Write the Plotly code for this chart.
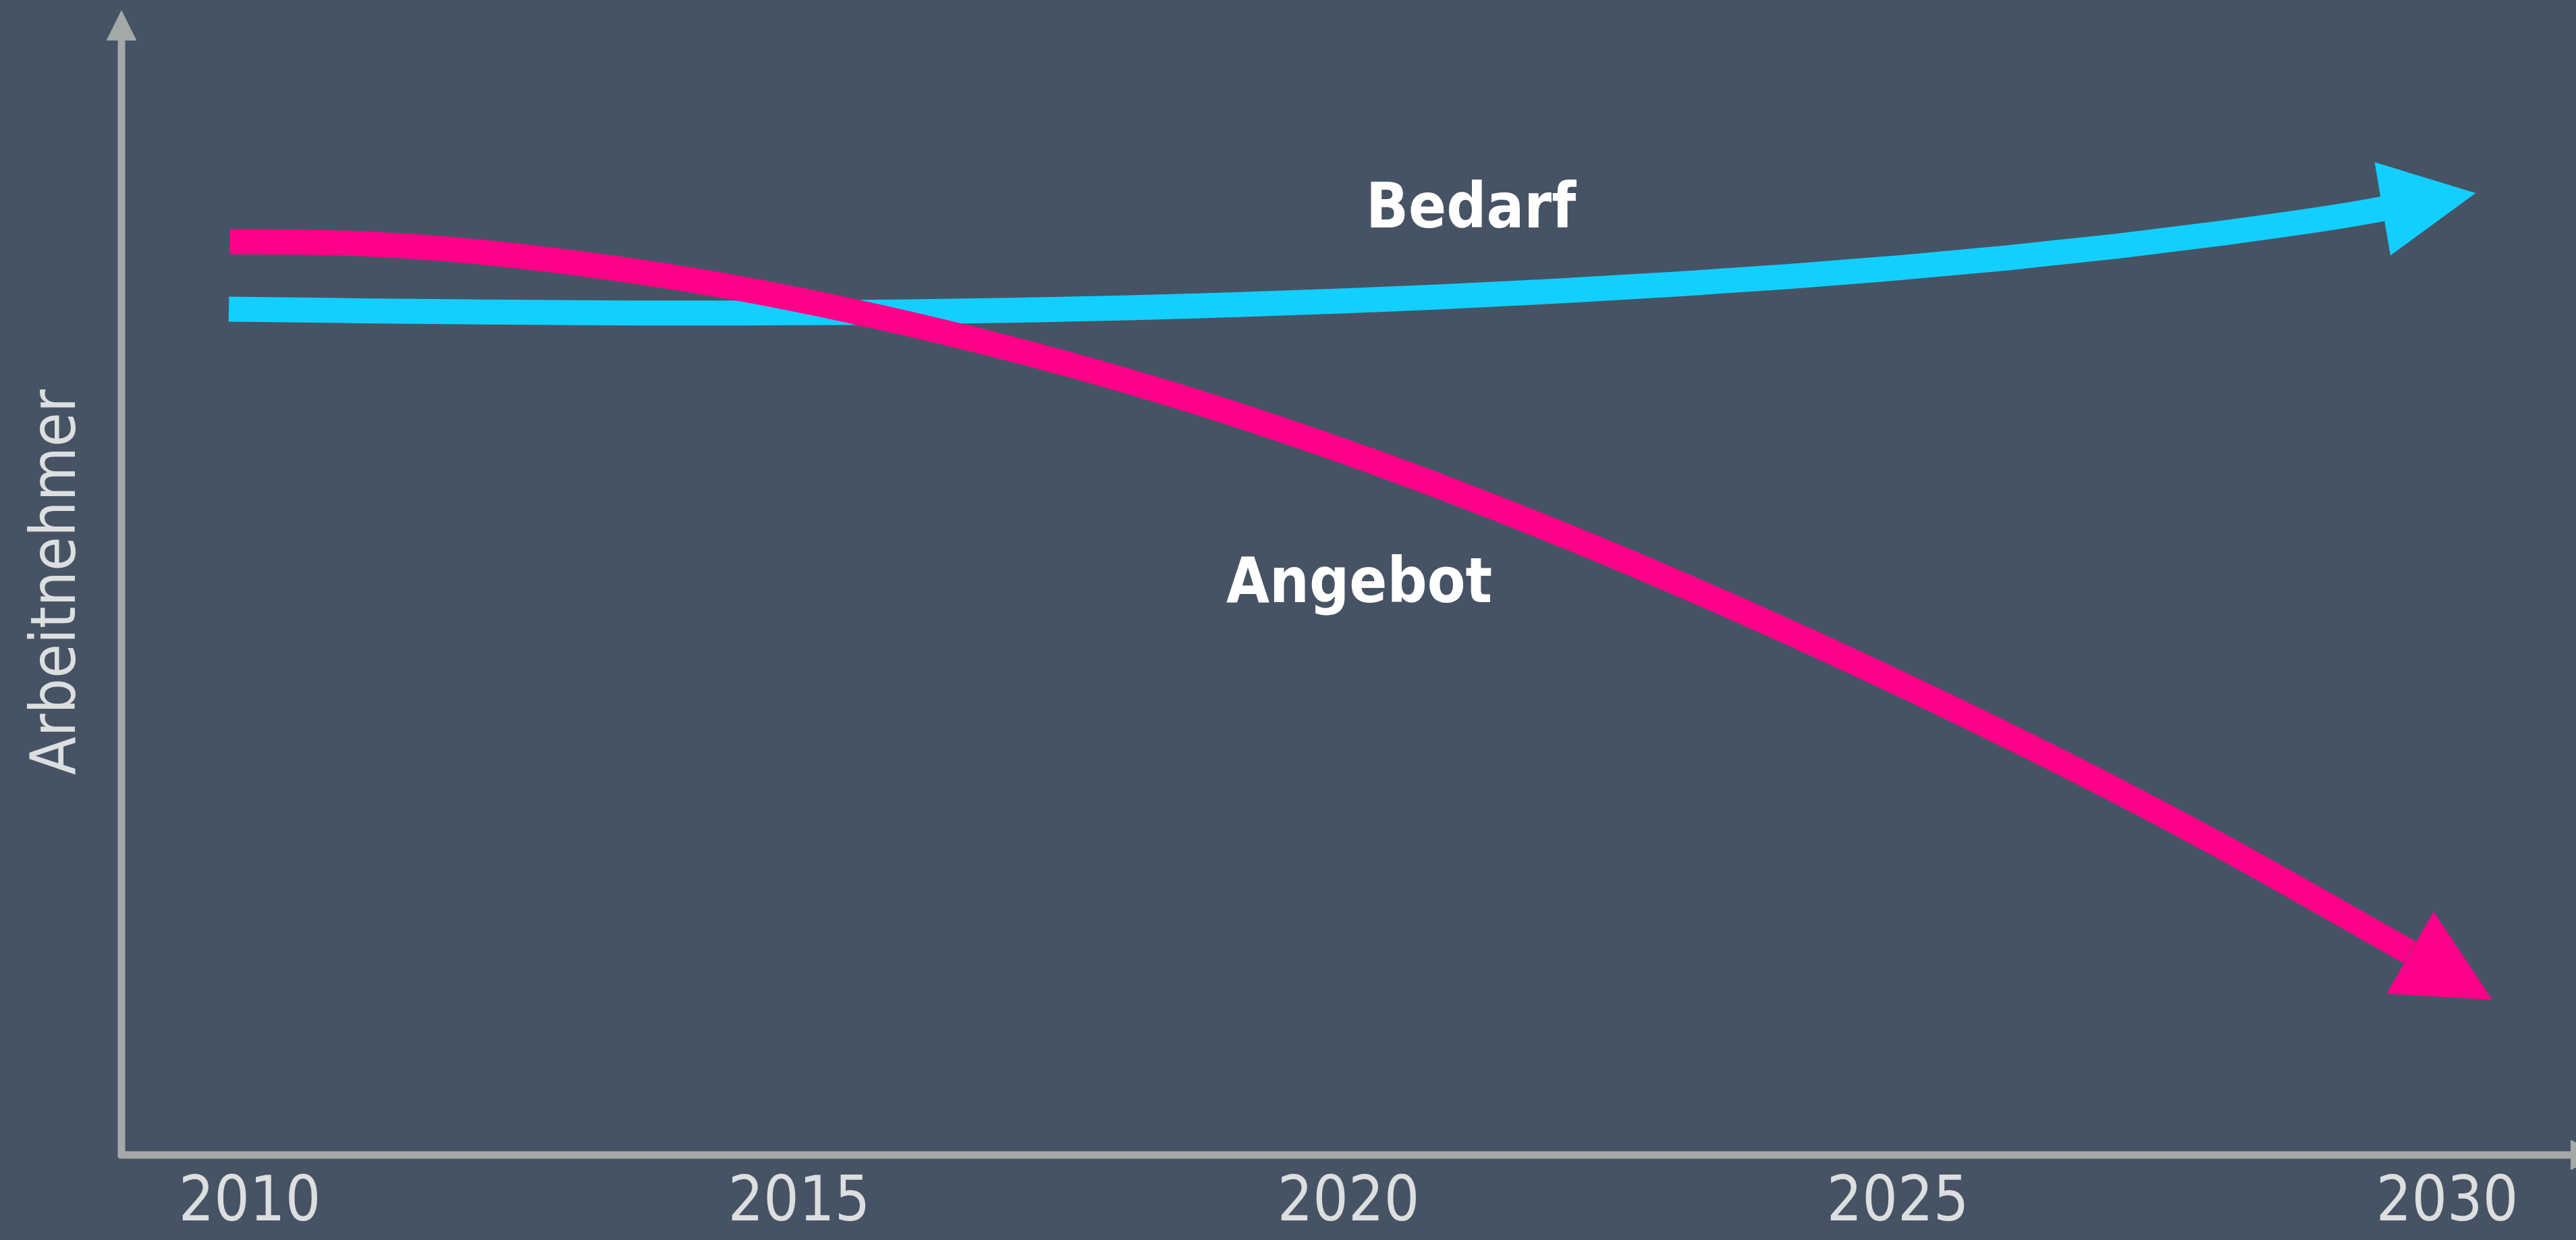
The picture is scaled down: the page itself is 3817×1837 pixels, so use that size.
import plotly.graph_objects as go

# ---- data ----
angebot_years = [2009.82, 2011, 2012, 2013, 2014, 2015, 2016, 2017, 2018, 2019, 2020,
                 2021, 2022, 2023, 2024, 2025, 2026, 2027, 2028, 2029, 2029.66, 2030.41]
angebot_values = [81.84, 81.66, 81.00, 79.87, 78.42, 76.59, 74.44, 72.01, 69.27, 66.21, 62.84,
                  59.19, 55.27, 51.11, 46.74, 42.16, 37.39, 32.41, 27.15, 21.60, 17.89, 13.64]

bedarf_years = [2009.81, 2011, 2012, 2013, 2014, 2015, 2016, 2017, 2018, 2019, 2020,
                2021, 2022, 2023, 2024, 2025, 2026, 2027, 2028, 2029, 2029.43, 2030.26]
bedarf_values = [75.77, 75.62, 75.52, 75.44, 75.41, 75.44, 75.52, 75.68, 75.89, 76.17, 76.52,
                 76.95, 77.45, 78.03, 78.70, 79.48, 80.38, 81.44, 82.67, 84.08, 84.82, 86.21]

tick_years = [2010, 2015, 2020, 2025, 2030]
tick_labels = ["2010", "2015", "2020", "2025", "2030"]

series_names = ["Bedarf", "Angebot"]
label_pos = {"Bedarf": (2021.12, 85.0), "Angebot": (2020.10, 51.35)}
y_title = "Arbeitnehmer"

# ---- styles ----
BG = "#465364"
AXIS = "#a4a9a8"
TEXT = "#dcdee0"
CYAN = "#13cfff"
MAGENTA = "#ff0088"
FONT = "Liberation Sans Narrow, DejaVu Sans Condensed, Arial Narrow, sans-serif"
LW = 37
HEAD = 28  # arrowhead scale in px units

W, H = 3817, 1837
ML, MR, MT, MB = 180, 0, 15, 126
PW = W - ML - MR
PH = H - MT - MB

fig = go.Figure()

series = [
    ("Bedarf", bedarf_years, bedarf_values, CYAN),
    ("Angebot", angebot_years, angebot_values, MAGENTA),
]

annotations = []
for name, xs, ys, col in series:
    fig.add_trace(go.Scatter(
        x=xs[:-1], y=ys[:-1], mode="lines", name=name,
        line=dict(color=col, width=LW, shape="spline", smoothing=1.0),
        hoverinfo="skip", showlegend=False,
    ))
    annotations.append(dict(
        x=xs[-1], y=ys[-1], xref="x", yref="y",
        ax=xs[-2], ay=ys[-2], axref="x", ayref="y",
        text="", showarrow=True, arrowhead=2,
        arrowwidth=LW, arrowsize=HEAD / LW, arrowcolor=col,
    ))
    lx, ly = label_pos[name]
    annotations.append(dict(
        x=lx, y=ly, xref="x", yref="y", text="<b>%s</b>" % name,
        showarrow=False, xanchor="center", yanchor="middle",
        font=dict(family=FONT, size=92, color="#ffffff"),
    ))

# axis arrows
AX_LW = 11
annotations.append(dict(
    x=0, y=1, xref="x domain", yref="y domain",
    ax=0, ay=-(AX_LW / 2) / PH, axref="x domain", ayref="y domain",
    text="", showarrow=True, arrowhead=2, arrowwidth=AX_LW,
    arrowsize=9 / AX_LW, arrowcolor=AXIS,
))
annotations.append(dict(
    x=1 + 37 / PW, y=0, xref="x domain", yref="y domain",
    ax=-(AX_LW / 2) / PW, ay=0, axref="x domain", ayref="y domain",
    text="", showarrow=True, arrowhead=2, arrowwidth=AX_LW,
    arrowsize=9 / AX_LW, arrowcolor=AXIS,
))
# y-axis title
annotations.append(dict(
    x=-101 / PW, y=(1711 - 862) / PH, xref="paper", yref="paper",
    text=y_title, textangle=-90, showarrow=False,
    xanchor="center", yanchor="middle",
    font=dict(family=FONT, size=92, color=TEXT),
))

fig.update_layout(
    width=W, height=H,
    margin=dict(l=ML, r=MR, t=MT, b=MB, pad=0, autoexpand=False),
    paper_bgcolor=BG, plot_bgcolor=BG,
    annotations=annotations,
    showlegend=False,
    xaxis=dict(
        range=[2008.833, 2031.173], tickvals=tick_years, ticktext=tick_labels,
        showgrid=False, zeroline=False, showline=False, ticks="",
        tickfont=dict(family=FONT, size=92, color=TEXT),
        ticklabelstandoff=4, automargin=False,
    ),
    yaxis=dict(
        range=[-0.334, 102.67], showticklabels=False, automargin=False,
        showgrid=False, zeroline=False, showline=False, ticks="",
    ),
)

fig.write_html("out.html", config={"displayModeBar": False},
               post_script="document.body.style.margin='0';")
